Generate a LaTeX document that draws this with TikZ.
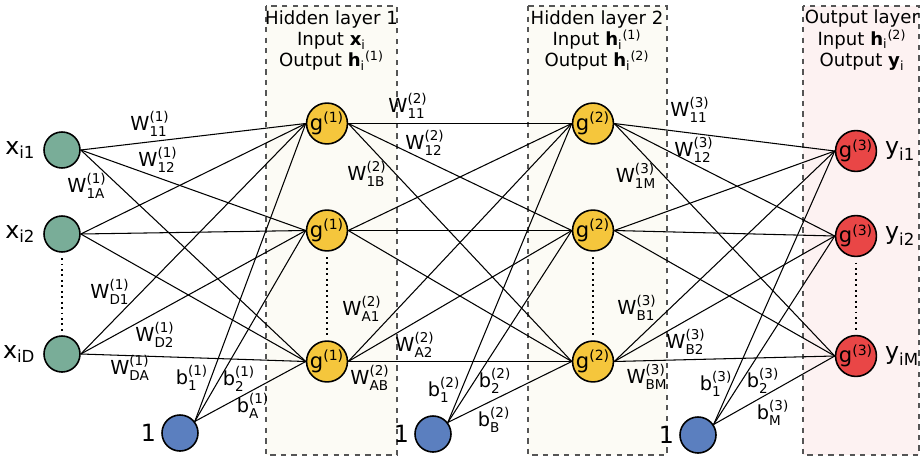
\documentclass[tikz,border=0pt]{standalone}
\usepackage{amsmath}
\usepackage{fontspec}
\setmainfont{DejaVu Sans}
\usetikzlibrary{positioning}
\definecolor{NNGreen}{HTML}{79AD98}
\definecolor{NNBlue}{HTML}{5B7FBF}
\definecolor{NNYellow}{HTML}{F5C63C}
\definecolor{NNRed}{HTML}{E94646}
\definecolor{NNHidden}{HTML}{FCFBF5}
\definecolor{NNOutput}{HTML}{FDF2F2}
\definecolor{NNBox}{HTML}{555555}
\newcommand{\wgt}[2]{$\text{W}^{\text{(#1)}}_{\text{#2}}$}
\newcommand{\bgt}[2]{$\text{b}^{\text{(#1)}}_{\text{#2}}$}
\newcommand{\gact}[1]{$\text{g}^{\text{(#1)}}$}
\newcommand{\unitsub}[2]{$\text{#1}_{\text{#2}}$}
\tikzset{
  unit/.style={circle,draw=black,line width=0.9pt,minimum size=0.72cm,inner sep=0pt,
               font=\fontsize{12}{14}\selectfont},
  inunit/.style={unit,fill=NNGreen},
  biasunit/.style={unit,fill=NNBlue},
  hidunit/.style={unit,fill=NNYellow},
  outunit/.style={unit,fill=NNRed},
  conn/.style={black,line width=0.6pt},
  dots/.style={black,line width=1.1pt,dotted,shorten <=3pt,shorten >=2pt},
  layerbox/.style={draw=NNBox,dashed,line width=0.6pt,fill=NNHidden},
  layerboxout/.style={layerbox,fill=NNOutput},
  boxhead/.style={font=\fontsize{10.3}{12.2}\selectfont,align=center,inner sep=0pt},
  wlabel/.style={font=\fontsize{11}{13}\selectfont,inner sep=0pt},
  unitlabel/.style={font=\fontsize{13.5}{16}\selectfont,inner sep=0pt},
}

\begin{document}
\begin{tikzpicture}[x=0.2mm,y=-0.2mm]
  \useasboundingbox (0,0) rectangle (922,458);

  % layer panels
  \draw[layerbox] (266,6) rectangle (397,455);
  \draw[layerbox] (528,6) rectangle (667,455);
  \draw[layerboxout] (803,6) rectangle (919,455);
  \node[boxhead] (head1) at (331.5,40.5)
    {Hidden layer 1\\Input \textbf{x}\textsubscript{i}\\Output \textbf{h}\textsubscript{i}\textsuperscript{(1)}};
  \node[boxhead] (head2) at (597,40.5)
    {Hidden layer 2\\Input \textbf{h}\textsubscript{i}\textsuperscript{(1)}\\Output \textbf{h}\textsubscript{i}\textsuperscript{(2)}};
  \node[boxhead] (head3) at (862,40.5)
    {Output layer\\Input \textbf{h}\textsubscript{i}\textsuperscript{(2)}\\Output \textbf{y}\textsubscript{i}};

  % units
  \node[inunit] (in1) at (62,150) {};
  \node[inunit] (in2) at (62,234) {};
  \node[inunit] (inD) at (62,354) {};
  \node[biasunit] (one1) at (180,433) {};
  \node[hidunit] (ha1) at (327,123.5) {\gact{1}};
  \node[hidunit] (ha2) at (327,230.5) {\gact{1}};
  \node[hidunit] (haA) at (327,361.5) {\gact{1}};
  \node[biasunit] (one2) at (433,434) {};
  \node[hidunit] (hb1) at (593,123.5) {\gact{2}};
  \node[hidunit] (hb2) at (593,230.5) {\gact{2}};
  \node[hidunit] (hbB) at (593,361.5) {\gact{2}};
  \node[biasunit] (one3) at (698,435) {};
  \node[outunit] (out1) at (856,151) {\gact{3}};
  \node[outunit] (out2) at (856,236) {\gact{3}};
  \node[outunit] (outM) at (856,356) {\gact{3}};

  % unit names
  \node[unitlabel,left=1.5mm of in1] (lin1) {\unitsub{x}{i1}};
  \node[unitlabel,left=1.5mm of in2] (lin2) {\unitsub{x}{i2}};
  \node[unitlabel,left=1.5mm of inD] (linD) {\unitsub{x}{iD}};
  \node[unitlabel,right=1.5mm of out1] (lout1) {\unitsub{y}{i1}};
  \node[unitlabel,right=1.5mm of out2] (lout2) {\unitsub{y}{i2}};
  \node[unitlabel,right=1.5mm of outM] (loutM) {\unitsub{y}{iM}};
  \node[unitlabel,left=1mm of one1] (lone1) {1};
  \node[unitlabel,left=1mm of one2] (lone2) {1};
  \node[unitlabel,left=1mm of one3] (lone3) {1};

  % connections
  \foreach \s in {in1,in2,inD}
    \foreach \t in {ha1,ha2,haA}
      \draw[conn] (\s.east) -- (\t.west);
  \foreach \s in {ha1,ha2,haA}
    \foreach \t in {hb1,hb2,hbB}
      \draw[conn] (\s.east) -- (\t.west);
  \foreach \s in {hb1,hb2,hbB}
    \foreach \t in {out1,out2,outM}
      \draw[conn] (\s.east) -- (\t.west);
  \foreach \t in {ha1,ha2,haA}
    \draw[conn] (one1.38) -- (\t.west);
  \foreach \t in {hb1,hb2,hbB}
    \draw[conn] (one2.38) -- (\t.west);
  \foreach \t in {out1,out2,outM}
    \draw[conn] (one3.34) -- (\t.west);

  \draw[dots] (in2.south) -- (inD.north);
  \draw[dots] (ha2.south) -- (haA.north);
  \draw[dots] (hb2.south) -- (hbB.north);
  \draw[dots] (out2.south) -- (outM.north);

  % weights and biases
  \node[wlabel] (w111) at (150,124) {\wgt{1}{11}};
  \node[wlabel] (w112) at (158,160) {\wgt{1}{12}};
  \node[wlabel] (w11A) at (87,186) {\wgt{1}{1A}};
  \node[wlabel] (w1D1) at (110,292) {\wgt{1}{D1}};
  \node[wlabel] (w1D2) at (155,335) {\wgt{1}{D2}};
  \node[wlabel] (w1DA) at (130,368) {\wgt{1}{DA}};
  \node[wlabel] (b11) at (192,378) {\bgt{1}{1}};
  \node[wlabel] (b12) at (239,379) {\bgt{1}{2}};
  \node[wlabel] (b1A) at (253,406) {\bgt{1}{A}};

  \node[wlabel] (w211) at (408,106) {\wgt{2}{11}};
  \node[wlabel] (w212) at (425,143) {\wgt{2}{12}};
  \node[wlabel] (w21B) at (367,174) {\wgt{2}{1B}};
  \node[wlabel] (w2A1) at (362,309) {\wgt{2}{A1}};
  \node[wlabel] (w2A2) at (415,345) {\wgt{2}{A2}};
  \node[wlabel] (w2AB) at (370,378) {\wgt{2}{AB}};
  \node[wlabel] (b21) at (444,390) {\bgt{2}{1}};
  \node[wlabel] (b22) at (495,381) {\bgt{2}{2}};
  \node[wlabel] (b2B) at (494,420) {\bgt{2}{B}};

  \node[wlabel] (w311) at (690,110) {\wgt{3}{11}};
  \node[wlabel] (w312) at (694,150) {\wgt{3}{12}};
  \node[wlabel] (w31M) at (636,176) {\wgt{3}{1M}};
  \node[wlabel] (w3B1) at (637,308) {\wgt{3}{B1}};
  \node[wlabel] (w3B2) at (686,342) {\wgt{3}{B2}};
  \node[wlabel] (w3BM) at (647,377) {\wgt{3}{BM}};
  \node[wlabel] (b31) at (716,384) {\bgt{3}{1}};
  \node[wlabel] (b32) at (763,381) {\bgt{3}{2}};
  \node[wlabel] (b3M) at (773,413) {\bgt{3}{M}};
\end{tikzpicture}
\end{document}
